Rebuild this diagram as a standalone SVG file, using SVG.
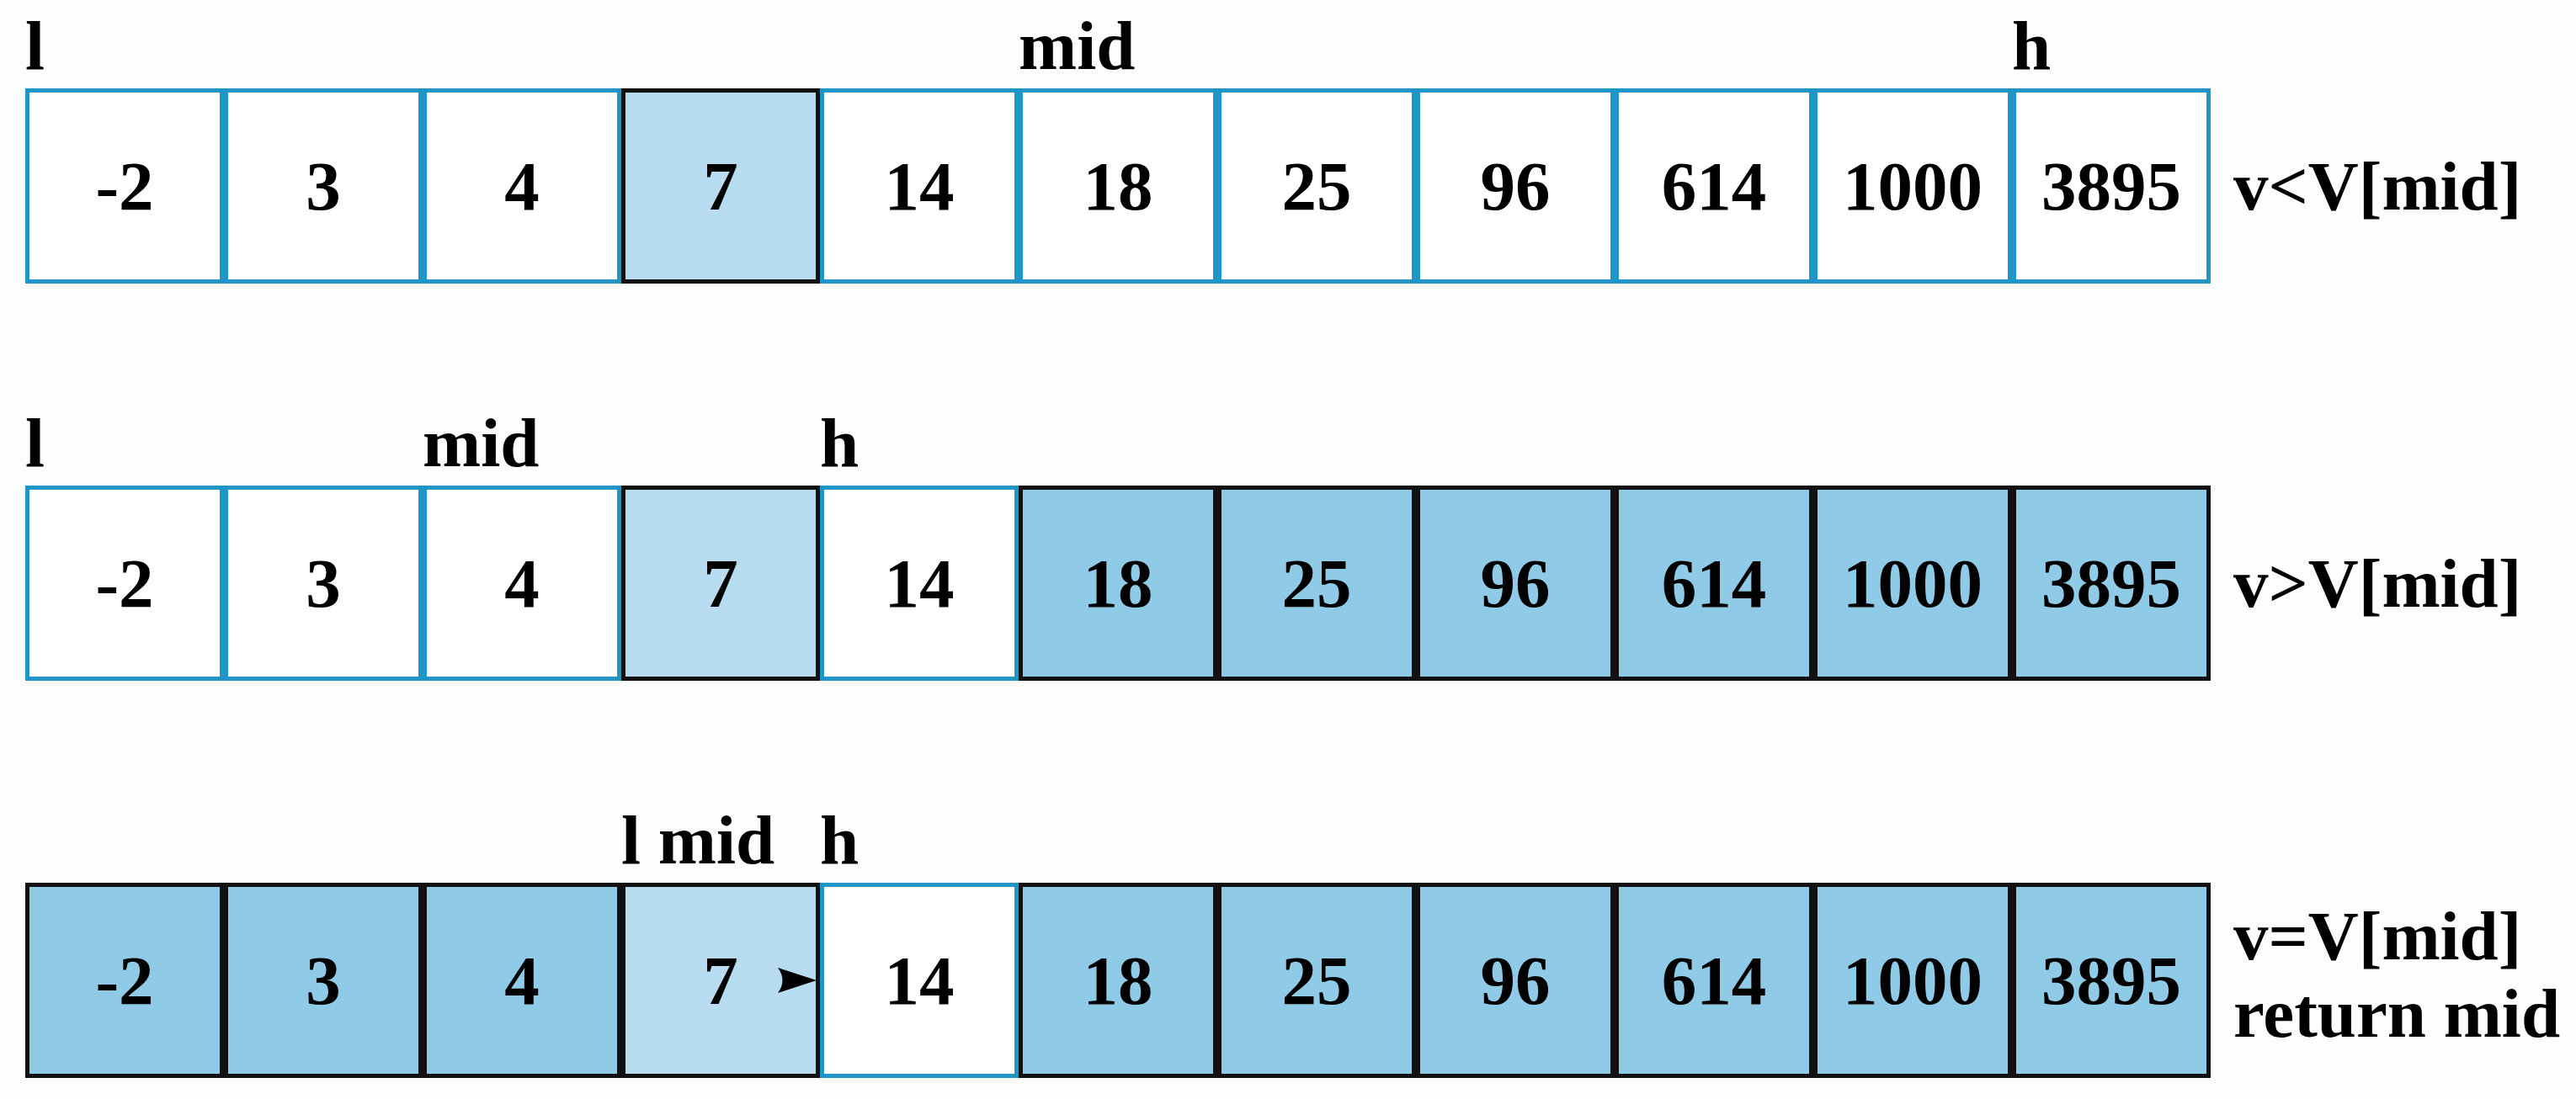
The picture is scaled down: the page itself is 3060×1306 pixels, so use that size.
<svg xmlns="http://www.w3.org/2000/svg" width="3060" height="1306" viewBox="0 0 3060 1306">
<style>
text{font-family:"Liberation Serif","Times New Roman",serif;font-weight:bold;fill:#000;font-size:83px}
.n{text-anchor:middle}
.w{fill:#ffffff;stroke:#1e96c8;stroke-width:5}
.l{fill:#b7dbef;stroke:#111;stroke-width:5}
.d{fill:#8fcae7;stroke:#111;stroke-width:5}
</style>
<rect width="3060" height="1306" fill="#fdfdfd"/>
<g id="row1">
<g id="r1c0"><rect class="w" x="32.5" y="107.5" width="231" height="227"/><text class="n" x="148" y="249">-2</text></g>
<g id="r1c1"><rect class="w" x="268.5" y="107.5" width="231" height="227"/><text class="n" x="384" y="249">3</text></g>
<g id="r1c2"><rect class="w" x="504.5" y="107.5" width="231" height="227"/><text class="n" x="620" y="249">4</text></g>
<g id="r1c3"><rect class="l" x="740.5" y="107.5" width="231" height="227"/><text class="n" x="856" y="249">7</text></g>
<g id="r1c4"><rect class="w" x="976.5" y="107.5" width="231" height="227"/><text class="n" x="1092" y="249">14</text></g>
<g id="r1c5"><rect class="w" x="1212.5" y="107.5" width="231" height="227"/><text class="n" x="1328" y="249">18</text></g>
<g id="r1c6"><rect class="w" x="1448.5" y="107.5" width="231" height="227"/><text class="n" x="1564" y="249">25</text></g>
<g id="r1c7"><rect class="w" x="1684.5" y="107.5" width="231" height="227"/><text class="n" x="1800" y="249">96</text></g>
<g id="r1c8"><rect class="w" x="1920.5" y="107.5" width="231" height="227"/><text class="n" x="2036" y="249">614</text></g>
<g id="r1c9"><rect class="w" x="2156.5" y="107.5" width="231" height="227"/><text class="n" x="2272" y="249">1000</text></g>
<g id="r1c10"><rect class="w" x="2392.5" y="107.5" width="231" height="227"/><text class="n" x="2508" y="249">3895</text></g>
<g id="r1labels"><text x="30" y="82">l</text><text x="1210" y="82">mid</text><text x="2390" y="82">h</text><text x="2653" y="249">v&lt;V[mid]</text></g>
</g>
<g id="row2">
<g id="r2c0"><rect class="w" x="32.5" y="579.5" width="231" height="227"/><text class="n" x="148" y="721">-2</text></g>
<g id="r2c1"><rect class="w" x="268.5" y="579.5" width="231" height="227"/><text class="n" x="384" y="721">3</text></g>
<g id="r2c2"><rect class="w" x="504.5" y="579.5" width="231" height="227"/><text class="n" x="620" y="721">4</text></g>
<g id="r2c3"><rect class="l" x="740.5" y="579.5" width="231" height="227"/><text class="n" x="856" y="721">7</text></g>
<g id="r2c4"><rect class="w" x="976.5" y="579.5" width="231" height="227"/><text class="n" x="1092" y="721">14</text></g>
<g id="r2c5"><rect class="d" x="1212.5" y="579.5" width="231" height="227"/><text class="n" x="1328" y="721">18</text></g>
<g id="r2c6"><rect class="d" x="1448.5" y="579.5" width="231" height="227"/><text class="n" x="1564" y="721">25</text></g>
<g id="r2c7"><rect class="d" x="1684.5" y="579.5" width="231" height="227"/><text class="n" x="1800" y="721">96</text></g>
<g id="r2c8"><rect class="d" x="1920.5" y="579.5" width="231" height="227"/><text class="n" x="2036" y="721">614</text></g>
<g id="r2c9"><rect class="d" x="2156.5" y="579.5" width="231" height="227"/><text class="n" x="2272" y="721">1000</text></g>
<g id="r2c10"><rect class="d" x="2392.5" y="579.5" width="231" height="227"/><text class="n" x="2508" y="721">3895</text></g>
<g id="r2labels"><text x="30" y="554">l</text><text x="502" y="554">mid</text><text x="974" y="554">h</text><text x="2653" y="721">v&gt;V[mid]</text></g>
</g>
<g id="row3">
<g id="r3c0"><rect class="d" x="32.5" y="1051.5" width="231" height="227"/><text class="n" x="148" y="1193">-2</text></g>
<g id="r3c1"><rect class="d" x="268.5" y="1051.5" width="231" height="227"/><text class="n" x="384" y="1193">3</text></g>
<g id="r3c2"><rect class="d" x="504.5" y="1051.5" width="231" height="227"/><text class="n" x="620" y="1193">4</text></g>
<g id="r3c3"><rect class="l" x="740.5" y="1051.5" width="231" height="227"/><text class="n" x="856" y="1193">7</text></g>
<g id="r3c4"><rect class="w" x="976.5" y="1051.5" width="231" height="227"/><text class="n" x="1092" y="1193">14</text></g>
<g id="r3c5"><rect class="d" x="1212.5" y="1051.5" width="231" height="227"/><text class="n" x="1328" y="1193">18</text></g>
<g id="r3c6"><rect class="d" x="1448.5" y="1051.5" width="231" height="227"/><text class="n" x="1564" y="1193">25</text></g>
<g id="r3c7"><rect class="d" x="1684.5" y="1051.5" width="231" height="227"/><text class="n" x="1800" y="1193">96</text></g>
<g id="r3c8"><rect class="d" x="1920.5" y="1051.5" width="231" height="227"/><text class="n" x="2036" y="1193">614</text></g>
<g id="r3c9"><rect class="d" x="2156.5" y="1051.5" width="231" height="227"/><text class="n" x="2272" y="1193">1000</text></g>
<g id="r3c10"><rect class="d" x="2392.5" y="1051.5" width="231" height="227"/><text class="n" x="2508" y="1193">3895</text></g>
<g id="r3labels"><text x="738" y="1026">l mid</text><text x="974" y="1026">h</text><text x="2653" y="1140">v=V[mid]</text><text x="2653" y="1232">return mid</text></g>
</g>
<g id="connectors">
<path d="M970,1165 L924,1150 Q935,1165 924,1180 Z" fill="#000"/>
</g>
</svg>
